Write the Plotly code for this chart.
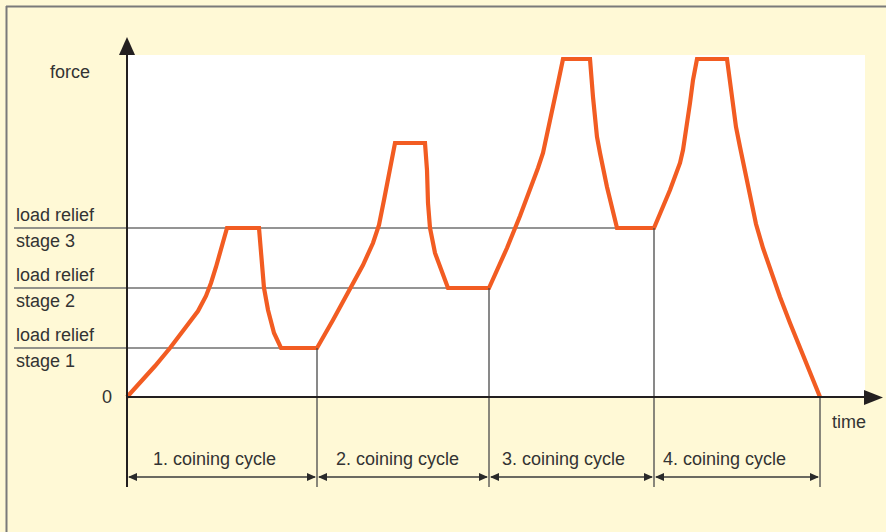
import plotly.graph_objects as go

# ---- data (time, force) in chart units: origin at axis crossing ----
time = [0, 13, 28, 43, 58, 71, 79, 84, 89, 93, 97, 100,
        132, 134, 136, 137, 141, 147, 154,
        190, 206, 224, 236, 246, 252, 257, 262, 268,
        298, 300, 301, 303, 308, 315, 321,
        362, 380, 393, 406, 411, 416, 421, 426, 431, 436,
        463, 466, 470, 473, 480, 490,
        527, 543, 548, 553, 556, 558, 561, 563, 566, 570,
        600, 603, 606, 609, 613, 618, 623, 629, 636, 644, 653, 663, 673, 683, 693]
force = [0, 14, 31, 49, 68, 86, 101, 114, 130, 145, 159, 169,
         169, 147, 127, 109, 87, 64, 49,
         49, 77, 109, 132, 154, 172, 197, 225, 254,
         254, 227, 194, 169, 144, 124, 109,
         109, 149, 181, 214, 229, 244, 266, 290, 314, 338,
         338, 300, 260, 244, 210, 169,
         169, 207, 220, 234, 247, 260, 277, 294, 317, 338,
         338, 314, 290, 270, 250, 225, 200, 173, 149, 125, 100, 74, 49, 25, 0]

relief_levels = [49, 109, 169]
relief_labels = [("load relief", "stage 1"), ("load relief", "stage 2"), ("load relief", "stage 3")]
cycle_ends = [0, 190, 362, 527, 693]
cycle_labels = ["1. coining cycle", "2. coining cycle", "3. coining cycle", "4. coining cycle"]
cycle_label_x = [87, 270, 436, 597]

BG = "#FFF9D6"
ORANGE = "#F25C22"
AX = "#231F20"
GRID = "#707070"
TXT = "#333333"
FONT = "Liberation Sans Narrow, Arial Narrow, Liberation Sans, Arial, sans-serif"
FS = 18

X0, X1 = -127, 759
Y0, Y1 = -135, 397

fig = go.Figure()
fig.add_trace(go.Scatter(x=time, y=force, mode="lines",
                         line=dict(color=ORANGE, width=4.2),
                         hoverinfo="skip", showlegend=False))

shapes = []
# white plotting area
shapes.append(dict(type="rect", xref="x", yref="y", x0=0, x1=738, y0=0, y1=342,
                   fillcolor="white", line=dict(width=0), layer="below"))
# frame lines (top & left)
shapes.append(dict(type="line", xref="paper", yref="paper", x0=6/886, x1=1, y0=1-6.5/532, y1=1-6.5/532,
                   line=dict(color="#7a7a7a", width=2)))
shapes.append(dict(type="line", xref="paper", yref="paper", x0=6.5/886, x1=6.5/886, y0=0, y1=1-6/532,
                   line=dict(color="#7a7a7a", width=2)))
# load relief lines
for lvl, end in zip(relief_levels, cycle_ends[1:4]):
    shapes.append(dict(type="line", xref="x", yref="y", x0=-113, x1=end, y0=lvl, y1=lvl,
                       line=dict(color=GRID, width=1.5), layer="below"))
# vertical cycle boundaries
tops = [49, 109, 169, 0]
for end, top in zip(cycle_ends[1:], tops):
    shapes.append(dict(type="line", xref="x", yref="y", x0=end, x1=end, y0=top, y1=-90,
                       line=dict(color="#4a4a4a", width=1.3)))
# axes
shapes.append(dict(type="line", xref="x", yref="y", x0=0, x1=0, y0=-90, y1=345,
                   line=dict(color=AX, width=2)))
shapes.append(dict(type="line", xref="x", yref="y", x0=0, x1=740, y0=0, y1=0,
                   line=dict(color=AX, width=2)))
shapes.append(dict(type="path", xref="x", yref="y",
                   path="M -8,342 L 0,360 L 8,342 Z", fillcolor=AX, line=dict(width=0)))
shapes.append(dict(type="path", xref="x", yref="y",
                   path="M 737,7 L 756,-0.5 L 737,-8 Z", fillcolor=AX, line=dict(width=0)))
# dimension lines
DY = -80
for a, b in zip(cycle_ends[:-1], cycle_ends[1:]):
    shapes.append(dict(type="line", xref="x", yref="y", x0=a + 2, x1=b - 2, y0=DY, y1=DY,
                       line=dict(color="#3a3a3a", width=1.3)))
    shapes.append(dict(type="path", xref="x", yref="y",
                       path=f"M {a+1},{DY} L {a+10},{DY+4} L {a+10},{DY-4} Z",
                       fillcolor="#2a2a2a", line=dict(width=0)))
    shapes.append(dict(type="path", xref="x", yref="y",
                       path=f"M {b-1},{DY} L {b-10},{DY+4} L {b-10},{DY-4} Z",
                       fillcolor="#2a2a2a", line=dict(width=0)))

ann = []
def txt(x, y, s, xa="center", ya="middle"):
    ann.append(dict(x=x, y=y, xref="x", yref="y", text=s, showarrow=False,
                    xanchor=xa, yanchor=ya, font=dict(family=FONT, size=FS, color=TXT)))

for lvl, (l1, l2) in zip(relief_levels, relief_labels):
    txt(-113, lvl + 1, l1, xa="left", ya="bottom")
    txt(-113, lvl - 1, l2, xa="left", ya="top")
txt(-57, 325, "force")
txt(-13, 0, "0", xa="right")
txt(722, -25, "time")
for lx, lab in zip(cycle_label_x, cycle_labels):
    txt(lx, -62, lab)

fig.update_layout(
    width=886, height=532, autosize=False,
    margin=dict(l=0, r=0, t=0, b=0),
    paper_bgcolor=BG, plot_bgcolor=BG,
    xaxis=dict(range=[X0, X1], visible=False, fixedrange=True),
    yaxis=dict(range=[Y0, Y1], visible=False, fixedrange=True),
    shapes=shapes, annotations=ann, showlegend=False,
)
fig.write_html("out.html", config={"displayModeBar": False},
               post_script="document.body.style.margin='0';document.body.style.overflow='hidden';")
